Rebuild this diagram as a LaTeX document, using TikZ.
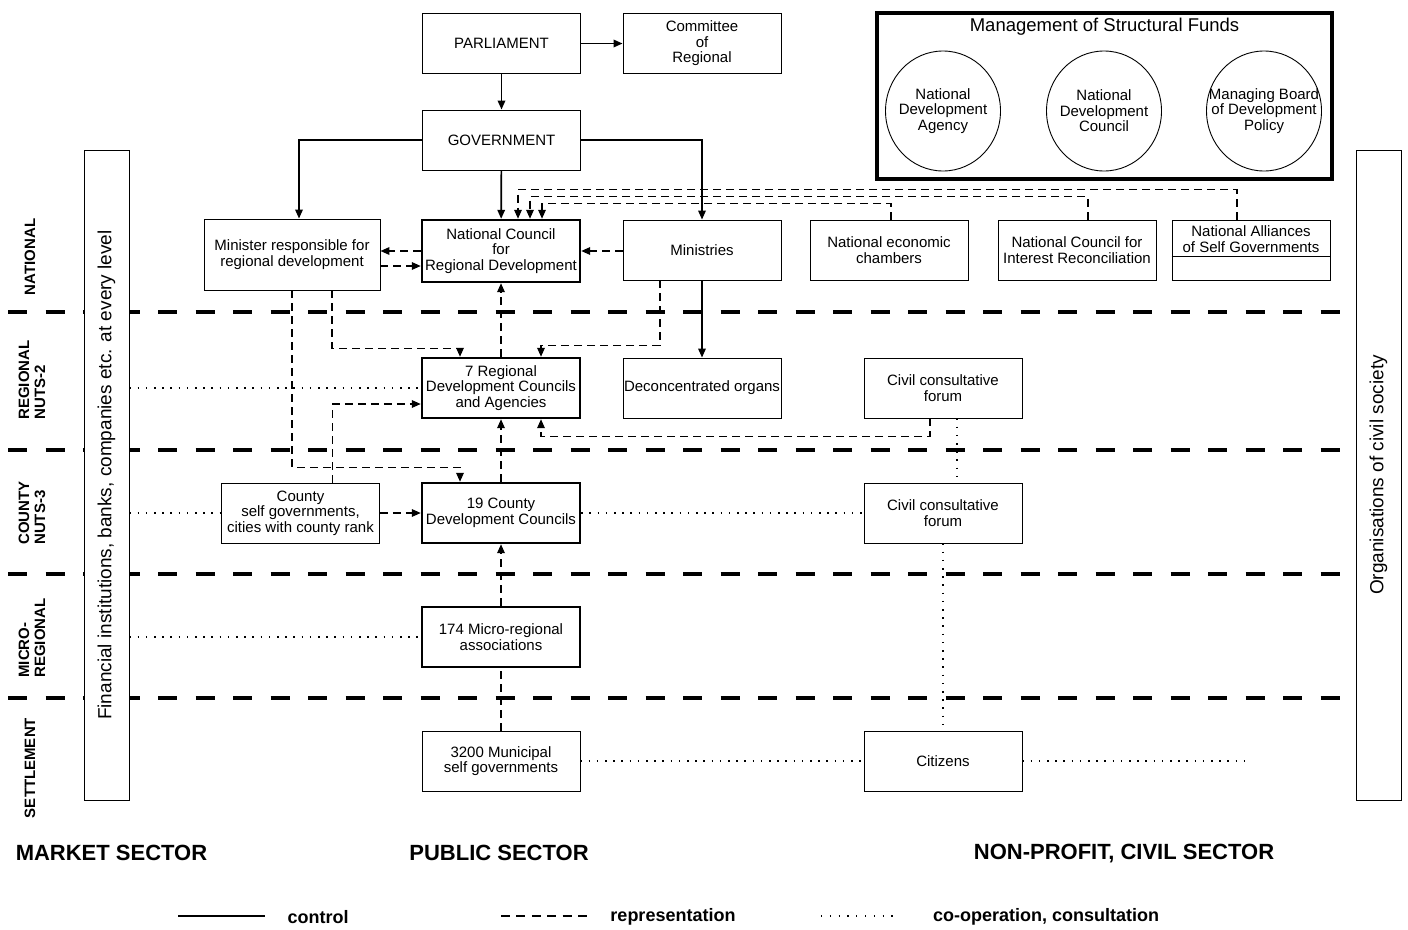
\documentclass[tikz,border=0pt]{standalone}
\usepackage{fontspec}
\setmainfont{Liberation Sans}
\usetikzlibrary{arrows.meta,shapes.geometric,calc}

\newcommand{\bxfont}{\fontsize{15}{15.5}\selectfont}

\tikzset{
  box/.style={draw, line width=0.9pt, minimum width=158pt, minimum height=60pt,
    align=center, inner sep=1pt, font=\bxfont},
  keybox/.style={box, line width=2.4pt},
  ctrl/.style={line width=1.7pt},
  repr/.style={line width=1.7pt, dash pattern=on 8pt off 5pt},
  coop/.style={line width=1.6pt, dash pattern=on 1.6pt off 6.6pt},
  sepline/.style={line width=4pt, dash pattern=on 19pt off 18.5pt},
  lvllabel/.style={rotate=90, align=left, font=\fontsize{15}{16}\selectfont\bfseries},
  sidebox/.style={draw, line width=0.9pt, fill=white, rotate=90, minimum width=650pt,
    minimum height=45pt, font=\fontsize{19}{20}\selectfont},
  fund/.style={ellipse, draw, line width=0.9pt, minimum width=115pt, minimum height=120pt, inner sep=0pt},
  sector/.style={font=\fontsize{22}{24}\selectfont\bfseries},
  legend/.style={font=\fontsize{18}{20}\selectfont\bfseries}
}

\begin{document}
\begin{tikzpicture}[x=1pt, y=-1pt, >={Triangle[length=9pt,width=7.5pt]}]

\useasboundingbox (0,0) rectangle (1408,929);

% level borders
\foreach \yy in {312,450,574,698}
  \draw[sepline] (8,\yy) -- (1340,\yy);

\node[sidebox] (finbox) at (106.5,475) {Financial institutions, banks, companies etc. at every level};
\node[sidebox] (civbox) at (1378.5,475) {Organisations of civil society};

\node[lvllabel] (lnat) at (30,257) {NATIONAL};
\node[lvllabel] (lreg) at (32,380) {REGIONAL\\NUTS-2};
\node[lvllabel] (lcty) at (32,513) {COUNTY\\NUTS-3};
\node[lvllabel] (lmic) at (32,638) {MICRO-\\REGIONAL};
\node[lvllabel] (lset) at (30,768) {SETTLEMENT};

% national level
\node[box] (parl) at (501.5,43.5) {PARLIAMENT};
\node[box] (committee) at (702,43.5) {Committee\\of\\Regional};
\node[box] (gov) at (501.5,140) {GOVERNMENT};

\node[draw, line width=3.5pt, minimum width=455pt, minimum height=166pt] (msf) at (1104.5,96) {};
\node[font=\fontsize{18.5}{20}\selectfont] (msftitle) at (1104.5,27) {Management of Structural Funds};
\node[fund, label={[font=\bxfont, align=center]center:{National\\Development\\Agency}}] (nda) at (943,111) {};
\node[fund, label={[font=\bxfont, align=center]center:{National\\Development\\Council}}] (ndc) at (1104,111) {};
\node[fund, label={[font=\bxfont, align=center]center:{Managing Board\\of Development\\Policy}}] (mbdp) at (1264,111) {};

\node[box, minimum width=176pt, minimum height=71pt] (minister) at (292,254.5) {Minister responsible for\\regional development};
\node[keybox, minimum height=62pt] (ncrd) at (501,251) {National Council\\for\\Regional Development};
\node[box] (ministries) at (702,250) {Ministries};
\node[box] (chambers) at (889,250) {National economic\\chambers};
\node[box] (interest) at (1077,250) {National Council for\\Interest Reconciliation};
\node[box] (alliances) at (1251,250) {};
\node[font=\bxfont, align=center] (alliancestxt) at (1251,239) {National Alliances\\of Self Governments};
\draw[line width=0.9pt] ($(alliances.west)+(0,6)$) -- ($(alliances.east)+(0,6)$);

% regional level
\node[keybox] (rdc) at (501,388) {7 Regional\\Development Councils\\and Agencies};
\node[box] (deconc) at (702,388) {Deconcentrated organs};
\node[box] (forumreg) at (943,388) {Civil consultative\\forum};

% county level
\node[box] (countysg) at (300.5,513) {County\\self governments,\\cities with county rank};
\node[keybox] (cdc) at (501,513) {19 County\\Development Councils};
\node[box] (forumcty) at (943,513) {Civil consultative\\forum};

% micro-regional and settlement level
\node[keybox] (micro) at (501,637) {174 Micro-regional\\associations};
\node[box] (municip) at (501,761) {3200 Municipal\\self governments};
\node[box] (citizens) at (943,761) {Citizens};

% control
\draw[ctrl,->] (parl) -- (gov);
\draw[ctrl,->] (parl) -- (committee);
\draw[ctrl,->] (gov.west) -| ($(minister.north)+(7,0)$);
\draw[ctrl,->] (gov) -- (ncrd);
\draw[ctrl,->] (gov.east) -| (ministries.north);
\draw[ctrl,->] (ministries) -- (deconc);

% representation
\draw[repr,->] (ncrd.west) -- (ncrd.west -| minister.east);
\draw[repr,->] ($(minister.east |- ncrd.west)+(0,15)$) -- ($(ncrd.west)+(0,15)$);
\draw[repr,->] (ministries.west |- ncrd.east) -- (ncrd.east);
\draw[repr,->] ($(chambers.north)+(2,0)$) -- ++(0,-16) -| ($(ncrd.north)+(41,0)$);
\draw[repr,->] ($(interest.north)+(11,0)$) -- ++(0,-23) -| ($(ncrd.north)+(29,0)$);
\draw[repr,->] ($(alliances.north)+(-14,0)$) -- ++(0,-30) -| ($(ncrd.north)+(17,0)$);
\draw[repr,->] (rdc) -- (ncrd);
\draw[repr,->] ($(minister.south)+(40,0)$) -- ++(0,58) -| ($(rdc.north)+(-41,0)$);
\draw[repr,->] ($(ministries.south)+(-42,0)$) -- ++(0,65) -| ($(rdc.north)+(40,0)$);
\draw[repr,->] ($(countysg.north)+(32,0)$) |- ($(rdc.west)+(0,16)$);
\draw[repr,->] ($(forumreg.south)+(-13,0)$) -- ++(0,18) -| ($(rdc.south)+(40,0)$);
\draw[repr,->] (cdc) -- (rdc);
\draw[repr,->] (minister.south) -- ++(0,177) -| ($(cdc.north)+(-41,0)$);
\draw[repr,->] (countysg) -- (cdc);
\draw[repr,->] (micro) -- (cdc);
\draw[repr] (municip) -- (micro);

% co-operation
\draw[coop] (finbox.south |- rdc.west) -- (rdc.west);
\draw[coop] (finbox.south |- countysg.west) -- (countysg.west);
\draw[coop] (finbox.south |- micro.west) -- (micro.west);
\draw[coop] (cdc) -- (forumcty);
\draw[coop] ($(forumreg.south)+(14,0)$) -- ($(forumcty.north)+(14,0)$);
\draw[coop] (forumcty) -- (citizens);
\draw[coop] (municip) -- (citizens);
\coordinate (civend) at (1247,761);
\draw[coop] (citizens.east) -- (civend);

% sectors
\node[sector] (mkt) at (111.5,853) {MARKET SECTOR};
\node[sector] (pub) at (499,853) {PUBLIC SECTOR};
\node[sector] (npo) at (1124,854) {NON-PROFIT, CIVIL SECTOR};

% legend
\coordinate (lc1) at (178,916);
\coordinate (lc2) at (265,916);
\coordinate (lr1) at (501,916);
\coordinate (lr2) at (587,916);
\coordinate (lo1) at (821,916);
\coordinate (lo2) at (900,916);
\draw[line width=1.5pt] (lc1) -- (lc2);
\draw[line width=1.5pt, dash pattern=on 9pt off 6.4pt] (lr1) -- (lr2);
\draw[line width=1.2pt, dash pattern=on 1.2pt off 7.6pt] (lo1) -- (lo2);
\node[legend] (lctrl) at (318,917) {control};
\node[legend] (lrepr) at (673,917) {representation};
\node[legend] (lcoop) at (1046,917) {co-operation, consultation};

\end{tikzpicture}
\end{document}
